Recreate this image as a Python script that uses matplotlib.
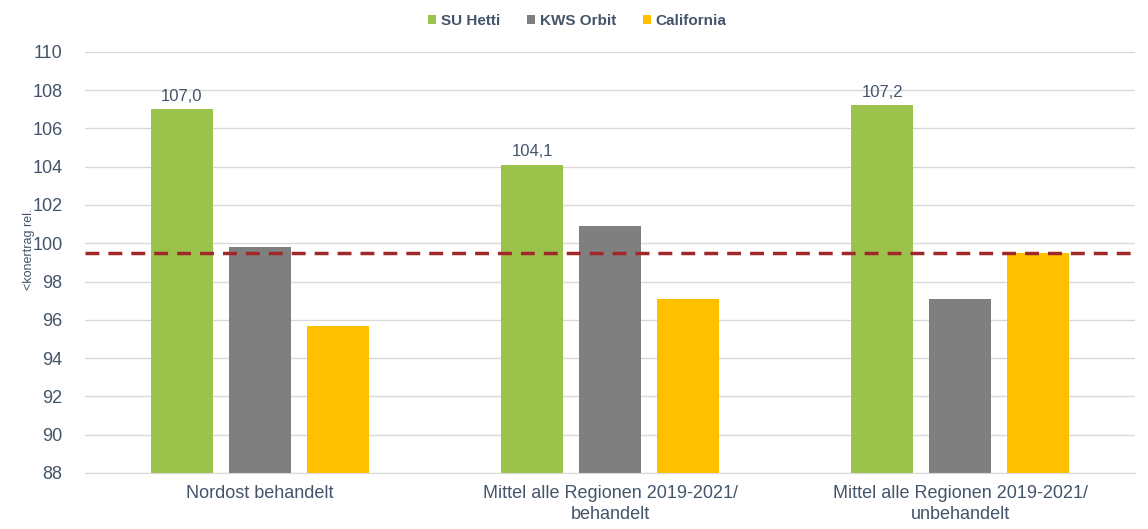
import numpy as np
import matplotlib
matplotlib.use("Agg")
import matplotlib.pyplot as plt

plt.rcParams["font.family"] = ["Liberation Sans", "DejaVu Sans"]

# data
categories = ["Nordost behandelt",
              "Mittel alle Regionen 2019-2021/\nbehandelt",
              "Mittel alle Regionen 2019-2021/\nunbehandelt"]
series_names = ["SU Hetti", "KWS Orbit", "California"]
su_hetti = [107.0, 104.1, 107.2]
kws_orbit = [99.8, 100.9, 97.1]
california = [95.7, 97.1, 99.5]
ref_level = 99.5
yticks = list(range(88, 111, 2))

colors = ["#9BC34B", "#7F7F7F", "#FFC000"]
txt = "#44546A"

fig = plt.figure(figsize=(11.48, 5.29), dpi=100)
ax = fig.add_axes([0.074, 0.106, 0.915, 0.796])

x = np.arange(len(categories))
width = 0.177
step = 0.223
for i, (name, vals) in enumerate(zip(series_names, [su_hetti, kws_orbit, california])):
    bars = ax.bar(x + (i - 1) * step, np.array(vals) - 88, width, bottom=88,
                  color=colors[i], label=name, zorder=2)
    if i == 0:
        for b, v in zip(bars, vals):
            ax.text(b.get_x() + b.get_width() / 2, v + 0.3, f"{v:.1f}".replace(".", ","),
                    ha="center", va="bottom", fontsize=12, color=txt)

ax.axhline(ref_level, color="#A0282A", ls=(0, (4, 2.6)), lw=2.5, zorder=3)

ax.set_xlim(-0.5, 2.5)
ax.set_ylim(88, 110)
ax.set_yticks(yticks)
ax.set_xticks(x)
ax.set_xticklabels(categories, fontsize=13, color=txt, linespacing=1.3)
ax.tick_params(axis="y", labelsize=13, colors=txt, length=0, pad=16)
ax.tick_params(axis="x", length=0, pad=9)
ax.grid(axis="y", color="#D9D9D9", lw=1, zorder=0)
for s in ["top", "right", "left"]:
    ax.spines[s].set_visible(False)
ax.spines["bottom"].set_color("#D9D9D9")
ax.set_ylabel("<konertrag rel.", fontsize=9, color=txt)
ax.yaxis.set_label_coords(-0.048, 0.53)

leg = fig.legend(loc="upper center", bbox_to_anchor=(0.503, 1.0), ncol=3, frameon=False,
                 fontsize=11, handlelength=0.5, handleheight=0.5, handletextpad=0.3,
                 columnspacing=1.8)
for t in leg.get_texts():
    t.set_color(txt)
    t.set_fontweight("bold")

fig.savefig("out.png", dpi=100)
